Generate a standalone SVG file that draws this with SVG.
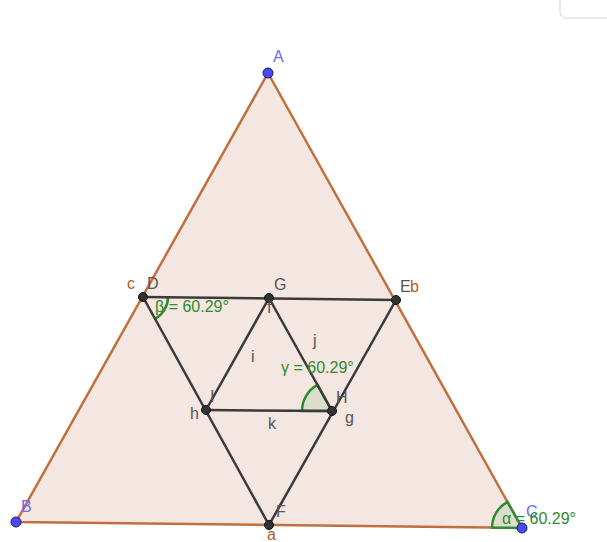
<svg xmlns="http://www.w3.org/2000/svg" width="607" height="542" viewBox="0 0 607 542">
<style>
.tri{fill:#f4e6e0;stroke:#c0703f;stroke-width:2.5;stroke-linejoin:round}
.seg{stroke:#3a3a3a;stroke-width:2.5;fill:none;stroke-linecap:round}
.ang{fill:#d6dcc8;fill-opacity:0.8;stroke:#2e8b2e;stroke-width:2.5}
.angl{fill:none;stroke:#2e8b2e;stroke-width:2.5}
.bp{fill:#4a4af5;stroke:#1a1a60;stroke-width:1}
.dp{fill:#333;stroke:#111;stroke-width:1}
text{font-family:"Liberation Sans",Arial,sans-serif;font-size:16px}
.lb{fill:#6b6bf0}
.ld{fill:#555}
.lr{fill:#b05a2a}
.lg{fill:#2e8b2e}
</style>
<rect x="560" y="-8" width="60" height="26" rx="6" fill="none" stroke="#e4e4e4" stroke-width="1.5"/>
<g id="triangle">
<polygon class="tri" points="268,73 16,522 522,528"/>
</g>
<g id="angles">
<path class="angl" d="M168,297 A25,25 0 0 1 155.1,318.9"/>
<path class="ang" d="M332,411 L302,411 A30,30 0 0 1 317.4,384.8 Z"/>
<path class="ang" d="M522,528 L492,527.6 A30,30 0 0 1 507.4,501.8 Z"/>
</g>
<g id="connectors">
<line class="seg" x1="143" y1="297" x2="396" y2="300"/>
<line class="seg" x1="396" y1="300" x2="269" y2="525"/>
<line class="seg" x1="269" y1="525" x2="143" y2="297"/>
<line class="seg" x1="269" y1="298" x2="332" y2="411"/>
<line class="seg" x1="332" y1="411" x2="206" y2="410"/>
<line class="seg" x1="206" y1="410" x2="269" y2="298"/>
</g>
<g id="A"><circle class="bp" cx="268" cy="73" r="5"/><text class="lb" x="273" y="62">A</text></g>
<g id="B"><circle class="bp" cx="16" cy="522" r="5"/><text class="lb" x="21" y="512">B</text></g>
<g id="C"><circle class="bp" cx="522" cy="528" r="5"/><text class="lb" x="526" y="517">C</text></g>
<g id="D"><circle class="dp" cx="143" cy="297" r="4.5"/><text class="ld" x="147" y="289">D</text><text class="lr" x="127" y="289">c</text></g>
<g id="E"><circle class="dp" cx="396" cy="300" r="4.5"/><text class="ld" x="400" y="292">E</text><text class="lr" x="410" y="292">b</text></g>
<g id="F"><circle class="dp" cx="269" cy="525" r="4.5"/><text class="ld" x="276" y="517">F</text><text class="lr" x="267" y="540">a</text></g>
<g id="G"><circle class="dp" cx="269" cy="298" r="4.5"/><text class="ld" x="274" y="290">G</text><text class="ld" x="267" y="313">f</text></g>
<g id="H"><circle class="dp" cx="332" cy="411" r="4.5"/><text class="ld" x="336" y="403">H</text><text class="ld" x="345" y="423">g</text></g>
<g id="I"><circle class="dp" cx="206" cy="410" r="4.5"/><text class="ld" x="210" y="402">I</text><text class="ld" x="190" y="419">h</text></g>
<g id="labels">
<text class="ld" x="251" y="362">i</text>
<text class="ld" x="313" y="346">j</text>
<text class="ld" x="268" y="429">k</text>
<text class="lg" x="155" y="312">β = 60.29°</text>
<text class="lg" x="281" y="373">γ = 60.29°</text>
<text class="lg" x="502" y="524">α = 60.29°</text>
</g>
</svg>
